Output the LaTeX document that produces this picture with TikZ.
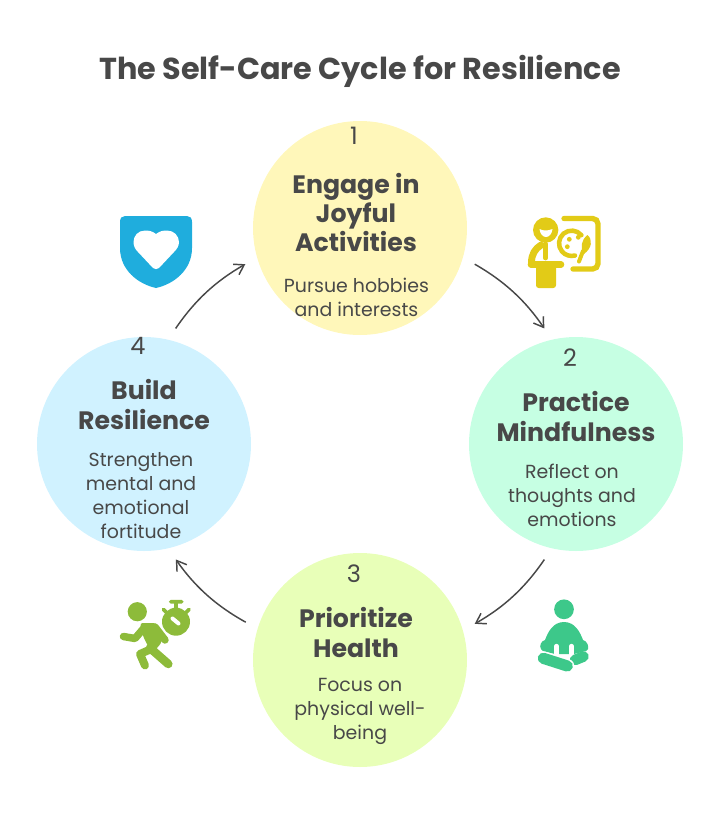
\documentclass[tikz,border=0pt]{standalone}
\usepackage{fontspec}
\setmainfont{Poppins}
\usetikzlibrary{arrows.meta,positioning}
\definecolor{ink}{HTML}{484848}
\definecolor{joyfill}{HTML}{FFF7BA}
\definecolor{mindfill}{HTML}{C6FFE3}
\definecolor{healthfill}{HTML}{E8FFB8}
\definecolor{resfill}{HTML}{D0F2FF}
\definecolor{joyicon}{HTML}{E2CB17}
\definecolor{mindicon}{HTML}{3DC88A}
\definecolor{healthicon}{HTML}{8DBB3A}
\definecolor{resicon}{HTML}{1FADDD}
\begin{document}
\begin{tikzpicture}[
  x=0.75pt, y=-0.75pt,
  stage/.style={circle, minimum size=160.5pt, inner sep=0pt},
  titletext/.style={ink, font=\bfseries\fontsize{22.7}{26}\selectfont},
  numtext/.style={ink, font=\fontsize{18}{22}\selectfont},
  headtext/.style={ink, align=center, inner sep=0pt, font=\bfseries\fontsize{18.9}{22}\selectfont},
  bodytext/.style={ink, align=center, inner sep=0pt, font=\fontsize{14.2}{18}\selectfont},
  arr/.style={-{Straight Barb[length=7pt,width=9pt]}, ink, line width=1.1pt, shorten <=10pt, shorten >=10pt, bend left=13}
]
  \useasboundingbox (0,0) rectangle (721,828);
  \node[titletext] (title) at (360,71) {The Self-Care Cycle for Resilience};

  \node[stage, fill=joyfill] (joy) at (360,228) {};
  \node[stage, fill=mindfill] (mind) at (576,444) {};
  \node[stage, fill=healthfill] (health) at (360,660) {};
  \node[stage, fill=resfill] (res) at (144,444) {};

  \node[numtext] (n1) at (354,135.5) {1};
  \node[numtext] (n2) at (570,357.5) {2};
  \node[numtext] (n3) at (354,573.5) {3};
  \node[numtext] (n4) at (138,345.5) {4};

  \node[headtext] (h1) at (356,212.5) {Engage in\\Joyful\\Activities};
  \node[bodytext] (b1) at (356.5,297.5) {Pursue hobbies\\and interests};
  \node[headtext] (h2) at (576,416.5) {Practice\\Mindfulness};
  \node[bodytext] (b2) at (572,495.5) {Reflect on\\thoughts and\\emotions};
  \node[headtext] (h3) at (356,632.5) {Prioritize\\Health};
  \node[bodytext] (b3) at (360,711.5) {Focus on\\physical well-\\being};
  \node[headtext] (h4) at (144,404.5) {Build\\Resilience};
  \node[bodytext] (b4) at (141,495.5) {Strengthen\\mental and\\emotional\\fortitude};

  \draw[arr] (joy.-16.5) to (mind.103);
  \draw[arr] (mind.-103) to (health.16.5);
  \draw[arr] (health.163.5) to (res.-77);
  \draw[arr] (res.77) to (joy.196.5);

  % shield
  \fill[resicon] (120,222) .. controls (120,218) and (122,216) .. (125,216) -- (187,216) .. controls (190,216) and (192,218) .. (192,222) -- (192,248) .. controls (192,270) and (174,284) .. (156,288) .. controls (138,284) and (120,270) .. (120,248) -- cycle;
  \fill[white] (156,234) .. controls (152,231) and (149,230.5) .. (145,230.5) .. controls (138,230.5) and (133.5,236) .. (133.5,242) .. controls (133.5,246) and (135,249) .. (138,252) -- (153,268) .. controls (155,269.5) and (157,269.5) .. (159,268) -- (174,252) .. controls (177,249) and (179,246) .. (179,242) .. controls (179,236) and (174,230.5) .. (167,230.5) .. controls (163,230.5) and (160,231) .. (156,234) -- cycle;

  % painter
  \draw[joyicon, line width=4pt, line cap=round, rounded corners=4pt] (564,218.5) -- (598,218.5) -- (598,269) -- (573,269);
  \fill[joyicon] (545.7,230) circle[radius=9.5pt];
  \fill[white] (539.5,229) .. controls (543,231) and (548,231) .. (552.5,229) .. controls (552,234) and (549,237) .. (546,237) .. controls (543,237) and (540,234) .. (539.5,229) -- cycle;
  \draw[joyicon, line width=5.2pt, line cap=round] (541,245) .. controls (535,249) and (531.5,254) .. (531.5,263);
  \draw[joyicon, line width=3.6pt, line cap=round] (545.7,244) -- (545.7,258);
  \draw[joyicon, line width=5pt, line cap=round] (531,264.5) -- (561,264.5);
  \fill[joyicon, rounded corners=2pt] (536,264) -- (556,264) -- (556,288) -- (536,288) -- cycle;
  \draw[joyicon, line width=3.4pt, line cap=round] ([shift={(40:9.5pt)}]571.7,243.3) arc[start angle=40, end angle=285, radius=9.5pt];
  \fill[joyicon] (569.3,239.3) circle[radius=1.8pt] (578.3,237.3) circle[radius=1.8pt] (567.3,246.7) circle[radius=1.8pt];
  \fill[joyicon] (587.5,235) .. controls (593,240) and (592,248) .. (584,254) .. controls (580,248) and (581,240) .. (587.5,235) -- cycle;
  \draw[joyicon, line width=3pt, line cap=round] (583,251) -- (579,261.5);

  % sitting figure
  \fill[mindicon] (564,609.3) circle[radius=7.4pt];
  \fill[mindicon] (564,622) .. controls (553,622) and (548,632) .. (545,640) .. controls (541,641) and (539,646) .. (541,649) -- (543,651) -- (555,654) -- (574,654) -- (586,651) -- (588,649) .. controls (589,646) and (587,641) .. (583,640) .. controls (580,632) and (575,622) .. (564,622) -- cycle;
  \draw[white, line width=3.2pt, line cap=round] (556.5,646) -- (556.5,656) (571.5,646) -- (571.5,656);
  \draw[mindicon, line width=8pt, line cap=round] (583.5,656.5) -- (575,660);
  \draw[white, line width=10.5pt, line cap=round] (543.3,658.3) -- (567.3,666);
  \draw[mindicon, line width=8.4pt, line cap=round] (543.3,658.3) -- (567.3,666);

  % runner
  \fill[healthicon] (137.3,611.7) circle[radius=7.2pt];
  \fill[healthicon] (176,621.7) circle[radius=10.5pt];
  \draw[white, line width=3pt, line cap=round] (172.5,618.5) -- (178.5,623.5);
  \draw[healthicon, line width=2.8pt, line cap=round] (170.7,601.7) -- (181.7,601.7) (176,601.7) -- (176,609) (163.5,609.5) -- (167,613) (189,609.5) -- (185.5,613);
  \fill[healthicon, rounded corners=2pt] (140,623) -- (156,623) -- (162,642) -- (152,654) -- (143,636) -- cycle;
  \draw[healthicon, line width=5.6pt, line cap=round, line join=round] (123.5,636.5) -- (135,638.5) -- (144,628);
  \draw[healthicon, line width=5.6pt, line cap=round] (155,627) -- (165,640);
  \draw[healthicon, line width=6.4pt, line cap=round] (150,648) -- (168.3,664);
  \draw[healthicon, line width=6pt, line cap=round, line join=round] (149,650) -- (140,654) -- (145,665.5);
\end{tikzpicture}
\end{document}
